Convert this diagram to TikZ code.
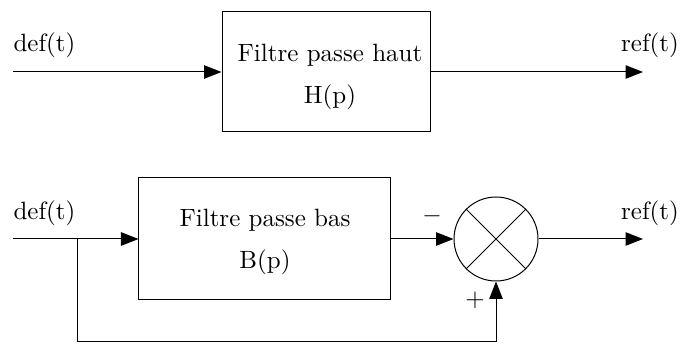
\documentclass[tikz,border=0pt]{standalone}
\usetikzlibrary{arrows.meta}
\begin{document}
\begin{tikzpicture}[x=0.4pt,y=-0.4pt,
  sig/.style={line width=0.4pt,-{Triangle[length=7pt,width=5.4pt]}},
  wire/.style={line width=0.4pt},
  lbl/.style={inner sep=0}]
\useasboundingbox (0,0) rectangle (680,345);
% top chain
\node[draw,line width=0.4pt,minimum width=83.2pt,minimum height=48pt,inner sep=0] (hb) at (326,72) {};
\node[lbl] (ht1) at (330,55) {Filtre passe haut};
\node[lbl] (ht2) at (330,97) {H(p)};
\coordinate (in1) at (13,72);
\coordinate (out1) at (643,72);
\node[lbl] (def1) at (44.5,45) {def(t)};
\node[lbl] (ref1) at (650,45) {ref(t)};
\draw[sig] (in1) -- (hb.west);
\draw[sig] (hb.east) -- (out1);
% bottom chain
\node[draw,line width=0.4pt,minimum width=100.4pt,minimum height=48.8pt,inner sep=0] (bb) at (264.5,239) {};
\node[lbl] (bt1) at (265,220) {Filtre passe bas};
\node[lbl] (bt2) at (265,262) {B(p)};
\node[draw,circle,line width=0.4pt,minimum size=33.6pt,inner sep=0] (sum) at (496,239) {};
\draw[wire] (sum.north west) -- (sum.south east);
\draw[wire] (sum.north east) -- (sum.south west);
\coordinate (in2) at (13,239);
\coordinate (br) at (77,239);
\coordinate (fb1) at (77,342);
\coordinate (fb2) at (496,342);
\coordinate (out2) at (643,239);
\node[lbl] (def2) at (44.5,213) {def(t)};
\node[lbl] (ref2) at (650,213) {ref(t)};
\node[lbl] (minus) at (432,216) {$-$};
\node[lbl] (plus) at (475,300) {$+$};
\draw[sig] (in2) -- (bb.west);
\draw[sig] (bb.east) -- (sum.west);
\draw[sig] (sum.east) -- (out2);
\draw[sig] (br) -- (fb1) -- (fb2) -- (sum.south);
\end{tikzpicture}
\end{document}
